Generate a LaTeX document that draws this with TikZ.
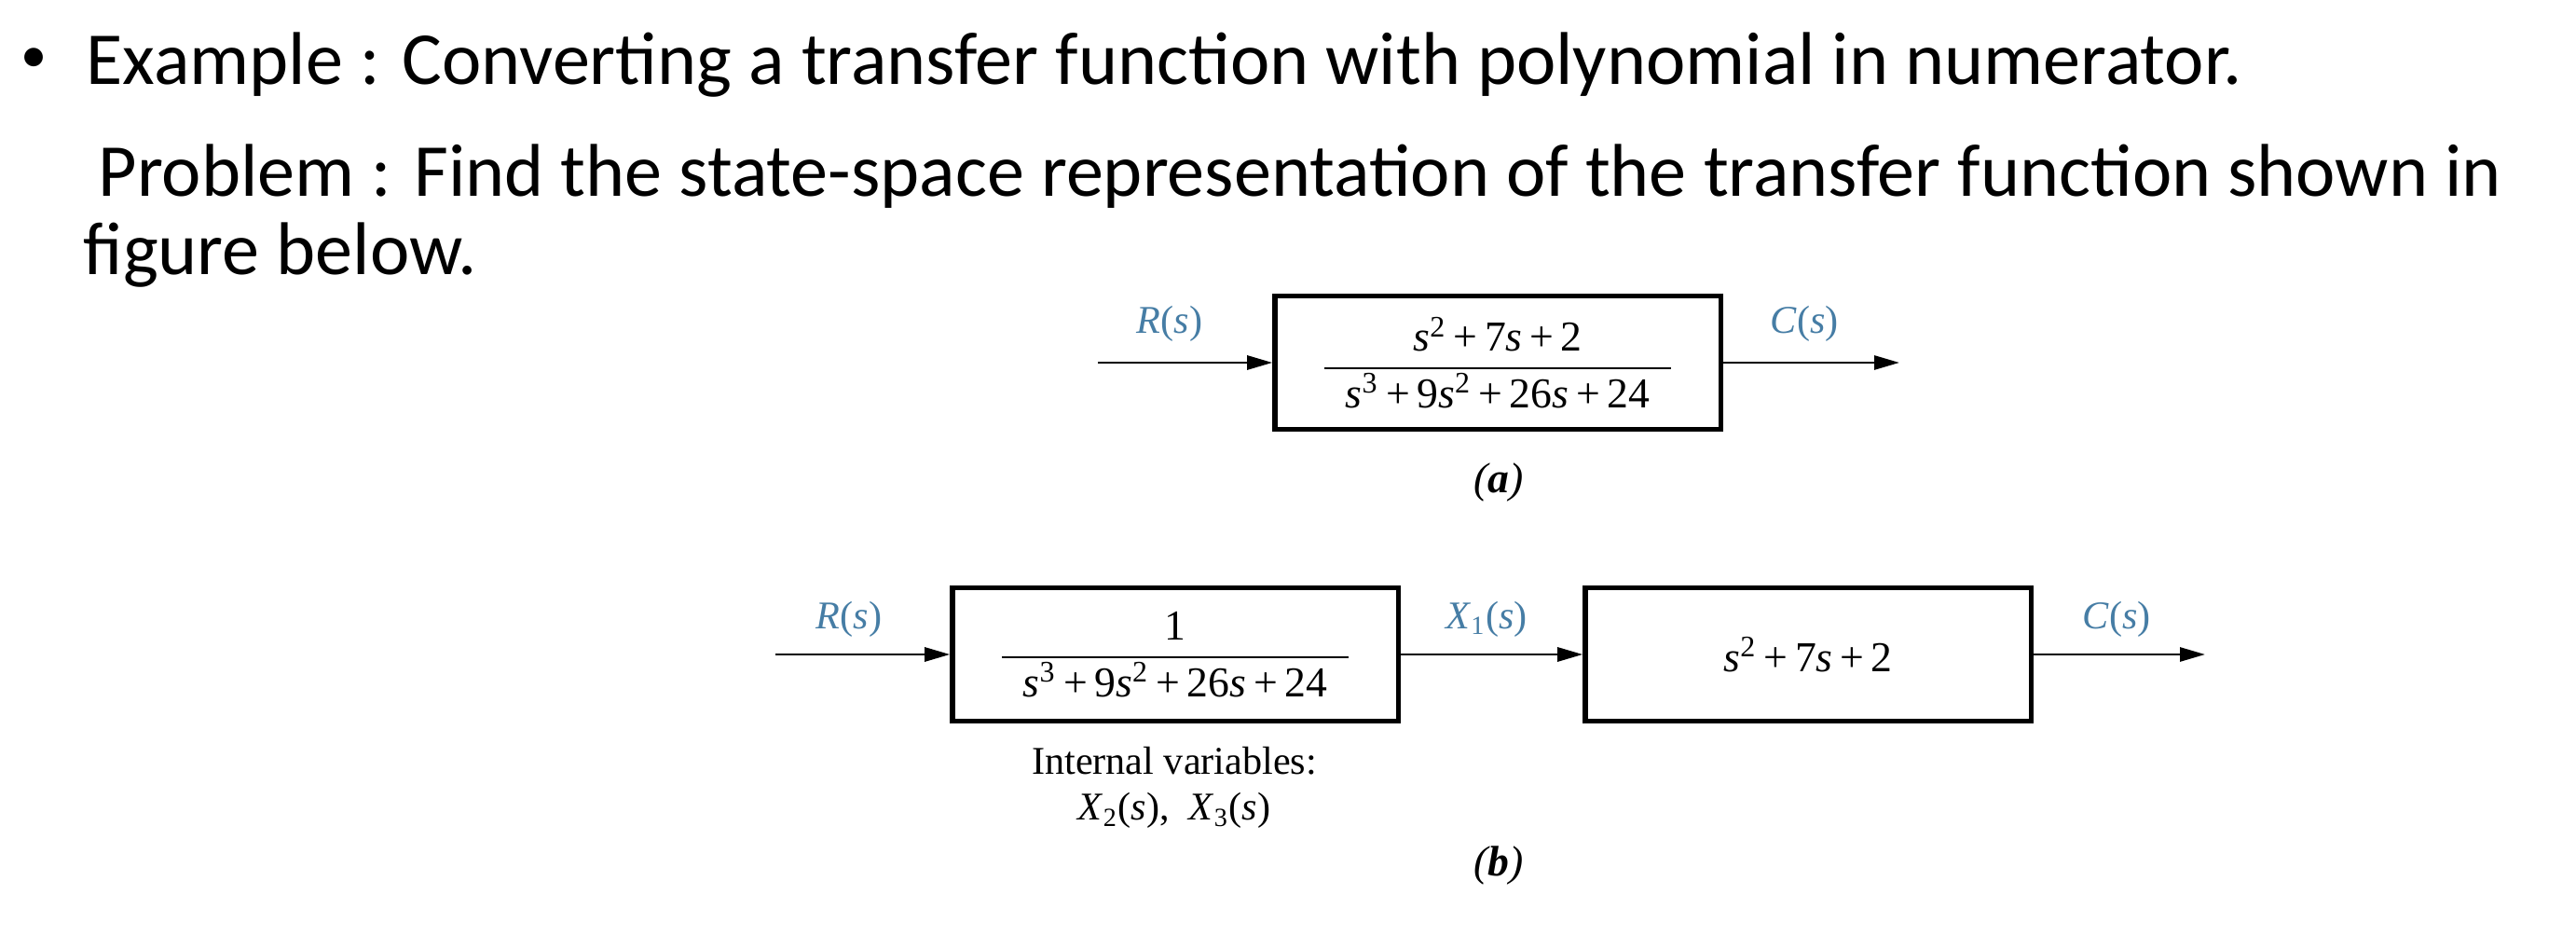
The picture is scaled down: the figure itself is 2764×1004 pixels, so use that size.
\documentclass[tikz,border=0pt]{standalone}
\usepackage{amsmath}
\usepackage{fontspec}
\setmainfont{Liberation Serif}
\newfontfamily\slidefont{Carlito}
\usepackage{tikz}
\usetikzlibrary{arrows.meta,positioning}
\definecolor{siglabel}{RGB}{70,125,165}
\newcommand{\sv}{\textit{s}}
\newcommand{\pl}{\,+\,}
\newcommand{\blockfrac}[2]{$\displaystyle\frac{\text{#1}}{\text{\hspace{0.5em}#2\hspace{0.5em}}}$}
\tikzset{
  slidetext/.style={anchor=base west,inner sep=0pt,font=\slidefont\fontsize{22.8}{27}\selectfont},
  block/.style={draw,line width=1.5pt,minimum width=4.78cm,minimum height=1.43cm,inner sep=0pt,font=\fontsize{13}{15}\selectfont},
  sig/.style={text=siglabel,font=\fontsize{12}{14}\selectfont},
  note/.style={font=\fontsize{12}{14}\selectfont},
  flow/.style={line width=0.8pt,-{Triangle[length=0.27cm,width=0.15cm]}}
}
\begin{document}
\begin{tikzpicture}[x=0.01cm,y=-0.01cm]
\useasboundingbox (0,0) rectangle (2764,1004);
% slide text
\node[slidetext,anchor=center,font=\slidefont\fontsize{16}{18}\selectfont] (bullet) at (37,65) {•};
\node[slidetext] (title) at (92,91) {Example : Converting a transfer function with polynomial in numerator.};
\node[slidetext] (prob1) at (105,211) {Problem : Find the state-space representation of the transfer function shown in};
\node[slidetext] (prob2) at (89,295) {figure below.};
% (a) single block
\node[block] (boxA) at (1607,389) {\blockfrac{\sv\textsuperscript{2}\pl 7\sv\pl 2}{\sv\textsuperscript{3}\pl 9\sv\textsuperscript{2}\pl 26\sv\pl 24}};
\coordinate (inA) at (1178,389);
\coordinate (outA) at (2038,389);
\draw[flow] (inA) -- (boxA.west);
\draw[flow] (boxA.east) -- (outA);
\node[sig] (RA) at (1255,347) {\textit{R}(\sv)};
\node[sig] (CA) at (1936,347) {\textit{C}(\sv)};
\node[note,font=\fontsize{13}{15}\selectfont] (labA) at (1608,518) {\textit{(\textbf{a})}};
% (b) two blocks in series
\node[block] (boxB1) at (1261,702) {\blockfrac{1}{\sv\textsuperscript{3}\pl 9\sv\textsuperscript{2}\pl 26\sv\pl 24}};
\node[block] (boxB2) at (1940,702) {\sv\textsuperscript{2}\pl 7\sv\pl 2};
\coordinate (inB) at (832,702);
\coordinate (outB) at (2366,702);
\draw[flow] (inB) -- (boxB1.west);
\draw[flow] (boxB1.east) -- (boxB2.west);
\draw[flow] (boxB2.east) -- (outB);
\node[sig] (RB) at (911,664) {\textit{R}(\sv)};
\node[sig] (XB) at (1595,664) {\textit{X}\textsubscript{1}(\sv)};
\node[sig] (CB) at (2271,664) {\textit{C}(\sv)};
\node[note,align=center] (intvar) at (1260,845) {Internal variables:\\\textit{X}\textsubscript{2}(\sv),\ \ \textit{X}\textsubscript{3}(\sv)};
\node[note,font=\fontsize{13}{15}\selectfont] (labB) at (1608,929) {\textit{(\textbf{b})}};
\end{tikzpicture}
\end{document}
